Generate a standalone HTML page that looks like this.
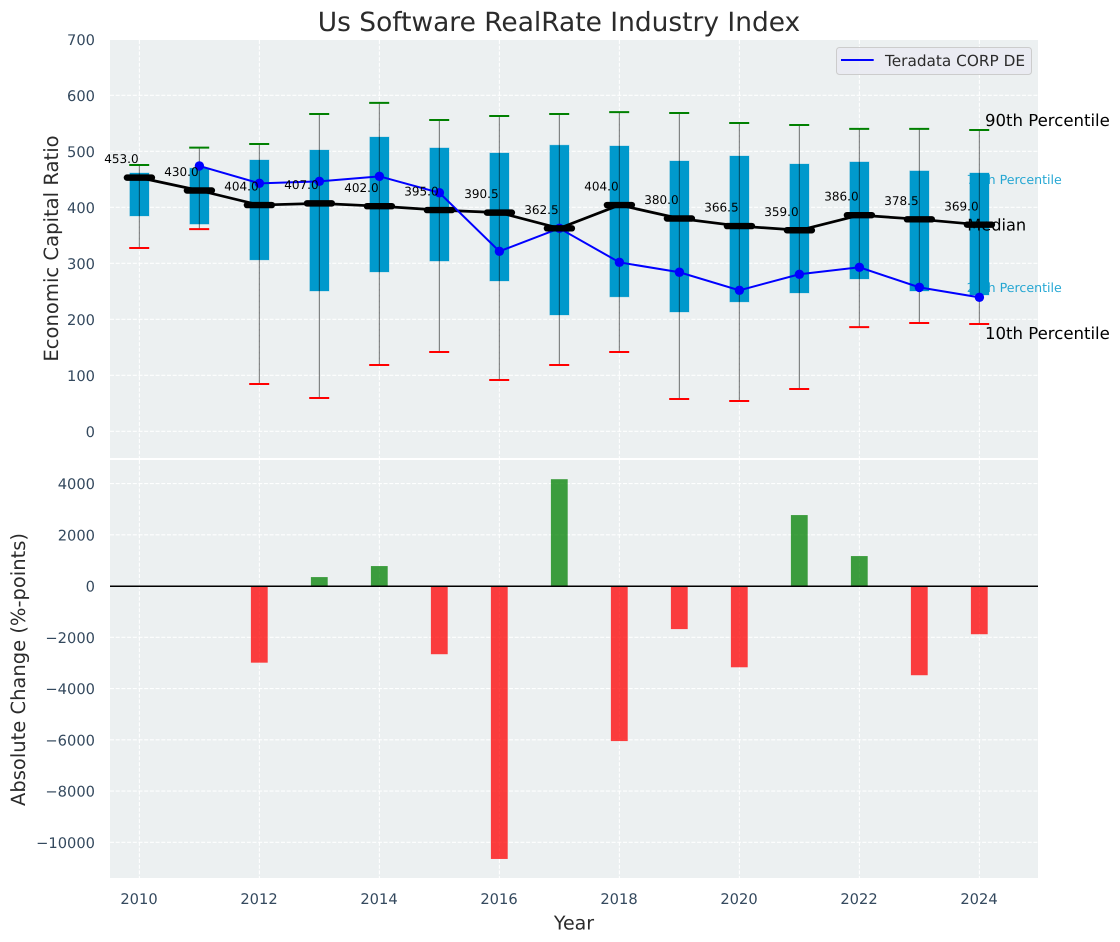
<!DOCTYPE html>
<html lang="en">
<head>
<meta charset="utf-8">
<title>Us Software RealRate Industry Index</title>
<style>
html,body{margin:0;padding:0;background:#fff;width:1120px;height:942px;overflow:hidden}
svg{display:block;font-family:"DejaVu Sans","Liberation Sans",sans-serif;text-rendering:geometricPrecision}
</style>
</head>
<body>
<svg id="chart" xmlns="http://www.w3.org/2000/svg" width="1120" height="942" viewBox="0 0 1120 942"></svg>
<script>
const years = [2010,2011,2012,2013,2014,2015,2016,2017,2018,2019,2020,2021,2022,2023,2024];
const p90 = [475.5,506.5,513,566.6,586.5,556,563,566.6,570,568.4,550.5,547,540,540,538];
const p75 = [461.3,470,484.5,502.3,525.5,506,497,511,509.5,482.7,491.6,477.3,481,465,461.3];
const medians = [453,430,404,407,402,395,390.5,362.5,404,380,366.5,359,386,378.5,369];
const p25 = [384.5,370,306,250.5,284.5,304,268.4,207.7,240,213,231,247,272,250.5,243.4];
const p10 = [327.3,361,84.5,59.5,118.4,141.6,91.6,118.4,141.6,57.7,54,75.5,186,193.4,191.6];
const companyYears = [2011,2012,2013,2014,2015,2016,2017,2018,2019,2020,2021,2022,2023,2024];
const companyValues = [473.8,442.8,446.4,455.3,426,321.4,362.5,301.7,284,251.8,280.4,292.9,257,239.2];
const changeYears = [2012,2013,2014,2015,2016,2017,2018,2019,2020,2021,2022,2023,2024];
const changeValues = [-2990,350,780,-2660,-10650,4170,-6050,-1680,-3170,2770,1170,-3480,-1880];
const xTicks = [2010,2012,2014,2016,2018,2020,2022,2024];
const topTicks = [0,100,200,300,400,500,600,700];
const bottomTicks = [-10000,-8000,-6000,-4000,-2000,0,2000,4000];

const NS = 'http://www.w3.org/2000/svg';
const svg = document.getElementById('chart');
const L = 110, R = 1038, T1 = 40, B1 = 458, T2 = 460, B2 = 878;
const TICK = '#34495e', INK = '#2b2b2b';
function xS(v){ return 139.4 + (v - 2010) * 60; }
function yTop(v){ return 431.3 - v * 0.56; }
function yBot(v){ return 586.05 - v * 0.025625; }
function fmt(v){ return String(v).replace('-', '\u2212'); }
function make(tag, attrs, text){
  const el = document.createElementNS(NS, tag);
  for (const k in attrs) el.setAttribute(k, attrs[k]);
  if (text !== undefined) el.textContent = text;
  svg.appendChild(el);
  return el;
}
let el;

/* panels */
el = make('rect',{x:L,y:T1,width:R-L,height:B1-T1,fill:'#ecf0f1'});


el = make('rect',{x:L,y:T2,width:R-L,height:B2-T2,fill:'#ecf0f1'});



/* grid */
const GRID = {stroke:'#fff','stroke-width':1.1,'stroke-dasharray':'4 1.7','stroke-opacity':0.95};
xTicks.forEach(function(t){
  el = make('line',Object.assign({x1:xS(t),x2:xS(t),y1:T1,y2:B1},GRID));
  
  
  el = make('line',Object.assign({x1:xS(t),x2:xS(t),y1:T2,y2:B2},GRID));
  
  
  el = make('text',{x:xS(t)-0.4,y:904.2,'text-anchor':'middle','font-size':14.67,fill:TICK},String(t));
  
  
});
topTicks.forEach(function(t){
  if (yTop(t) > T1) {
    el = make('line',Object.assign({x1:L,x2:R,y1:yTop(t),y2:yTop(t)},GRID));
    
    
  }
  el = make('text',{x:95,y:yTop(t)+5.8,'text-anchor':'end','font-size':14.67,fill:TICK},fmt(t));
  
  
});
bottomTicks.forEach(function(t){
  el = make('line',Object.assign({x1:L,x2:R,y1:yBot(t),y2:yBot(t)},GRID));
  
  
  el = make('text',{x:95,y:yBot(t)+5.6,'text-anchor':'end','font-size':14.67,fill:TICK},fmt(t));
  
  
});

/* percentile annotations sit beneath the boxes */
el = make('text',{x:966.7,y:184.2,'font-size':12.6,fill:'#0099cc','fill-opacity':0.85},'75th Percentile');


el = make('text',{x:966.7,y:292.2,'font-size':12.6,fill:'#0099cc','fill-opacity':0.85},'25th Percentile');


el = make('text',{x:985,y:125.8,'font-size':16.55,fill:'#000'},'90th Percentile');


el = make('text',{x:985,y:339.2,'font-size':16.55,fill:'#000'},'10th Percentile');



/* boxes, whiskers, caps */
years.forEach(function(y, i){
  const cx = xS(y);
  el = make('rect',{x:cx-9.6,y:yTop(p75[i]),width:19.2,height:yTop(p25[i])-yTop(p75[i]),fill:'#0099cc',stroke:'#0099cc','stroke-opacity':0.25,'stroke-width':1});
  
  
  el = make('line',{x1:cx,x2:cx,y1:yTop(p90[i]),y2:yTop(p10[i]),stroke:'#000','stroke-opacity':0.45,'stroke-width':1.2});
  
  
  el = make('line',{x1:cx-10.2,x2:cx+9.8,y1:yTop(p90[i]),y2:yTop(p90[i]),stroke:'#008000','stroke-width':2});
  
  
  el = make('line',{x1:cx-10.2,x2:cx+9.8,y1:yTop(p10[i]),y2:yTop(p10[i]),stroke:'#ff0000','stroke-width':2});
  
  
});

/* median annotation sits above the box, below the median bar */
el = make('text',{x:967.3,y:230.3,'font-size':16.2,fill:'#000'},'Median');



/* median line */
el = make('polyline',{points:years.map(function(y,i){return xS(y)+','+yTop(medians[i]);}).join(' '),fill:'none',stroke:'#000','stroke-width':2.7,'stroke-linejoin':'round'});



/* company line */
el = make('polyline',{points:companyYears.map(function(y,i){return xS(y)+','+yTop(companyValues[i]);}).join(' '),fill:'none',stroke:'#0000ff','stroke-width':2});


companyYears.forEach(function(y, i){
  el = make('circle',{cx:xS(y),cy:yTop(companyValues[i]),r:4.7,fill:'#0000ff'});
  
  
});

/* median bars and labels */
years.forEach(function(y, i){
  const cx = xS(y), cy = yTop(medians[i]);
  el = make('line',{x1:cx-12.5,x2:cx+12.5,y1:cy,y2:cy,stroke:'#000','stroke-width':6.4,'stroke-linecap':'round'});
  
  
  el = make('text',{x:cx-0.8,y:cy-14.4,'text-anchor':'end','font-size':12,fill:'#000'},medians[i].toFixed(1));
  
  
});

/* change bars */
changeYears.forEach(function(y, i){
  const v = changeValues[i];
  const y0 = yBot(Math.max(v, 0)), y1 = yBot(Math.min(v, 0));
  el = make('rect',{x:xS(y)-8.5,y:y0,width:16.8,height:y1-y0,fill:v >= 0 ? '#008000' : '#ff0000','fill-opacity':0.75});
  
  
});
el = make('line',{x1:L,x2:R,y1:yBot(0)+0.2,y2:yBot(0)+0.2,stroke:'#000','stroke-width':1.5});



/* legend */
el = make('rect',{x:836.5,y:47.5,width:195,height:27,rx:3,fill:'#eaeaf2','fill-opacity':0.85,stroke:'#cccccc','stroke-width':1});


el = make('line',{x1:841,x2:873.7,y1:60,y2:60,stroke:'#0000ff','stroke-width':2});


el = make('text',{x:885,y:66,'font-size':15.3,fill:'#2b2b2b'},'Teradata CORP DE');



/* titles */
el = make('text',{x:559,y:31,'text-anchor':'middle','font-size':26.45,fill:INK},'Us Software RealRate Industry Index');


el = make('text',{x:574,y:929.5,'text-anchor':'middle','font-size':19,fill:INK},'Year');


el = make('text',{x:0,y:0,transform:'translate(58,248.5) rotate(-90)','text-anchor':'middle','font-size':19.6,fill:INK},'Economic Capital Ratio');


el = make('text',{x:0,y:0,transform:'translate(25,669.5) rotate(-90)','text-anchor':'middle','font-size':19.5,fill:INK},'Absolute Change (%-points)');


</script>
</body>
</html>
